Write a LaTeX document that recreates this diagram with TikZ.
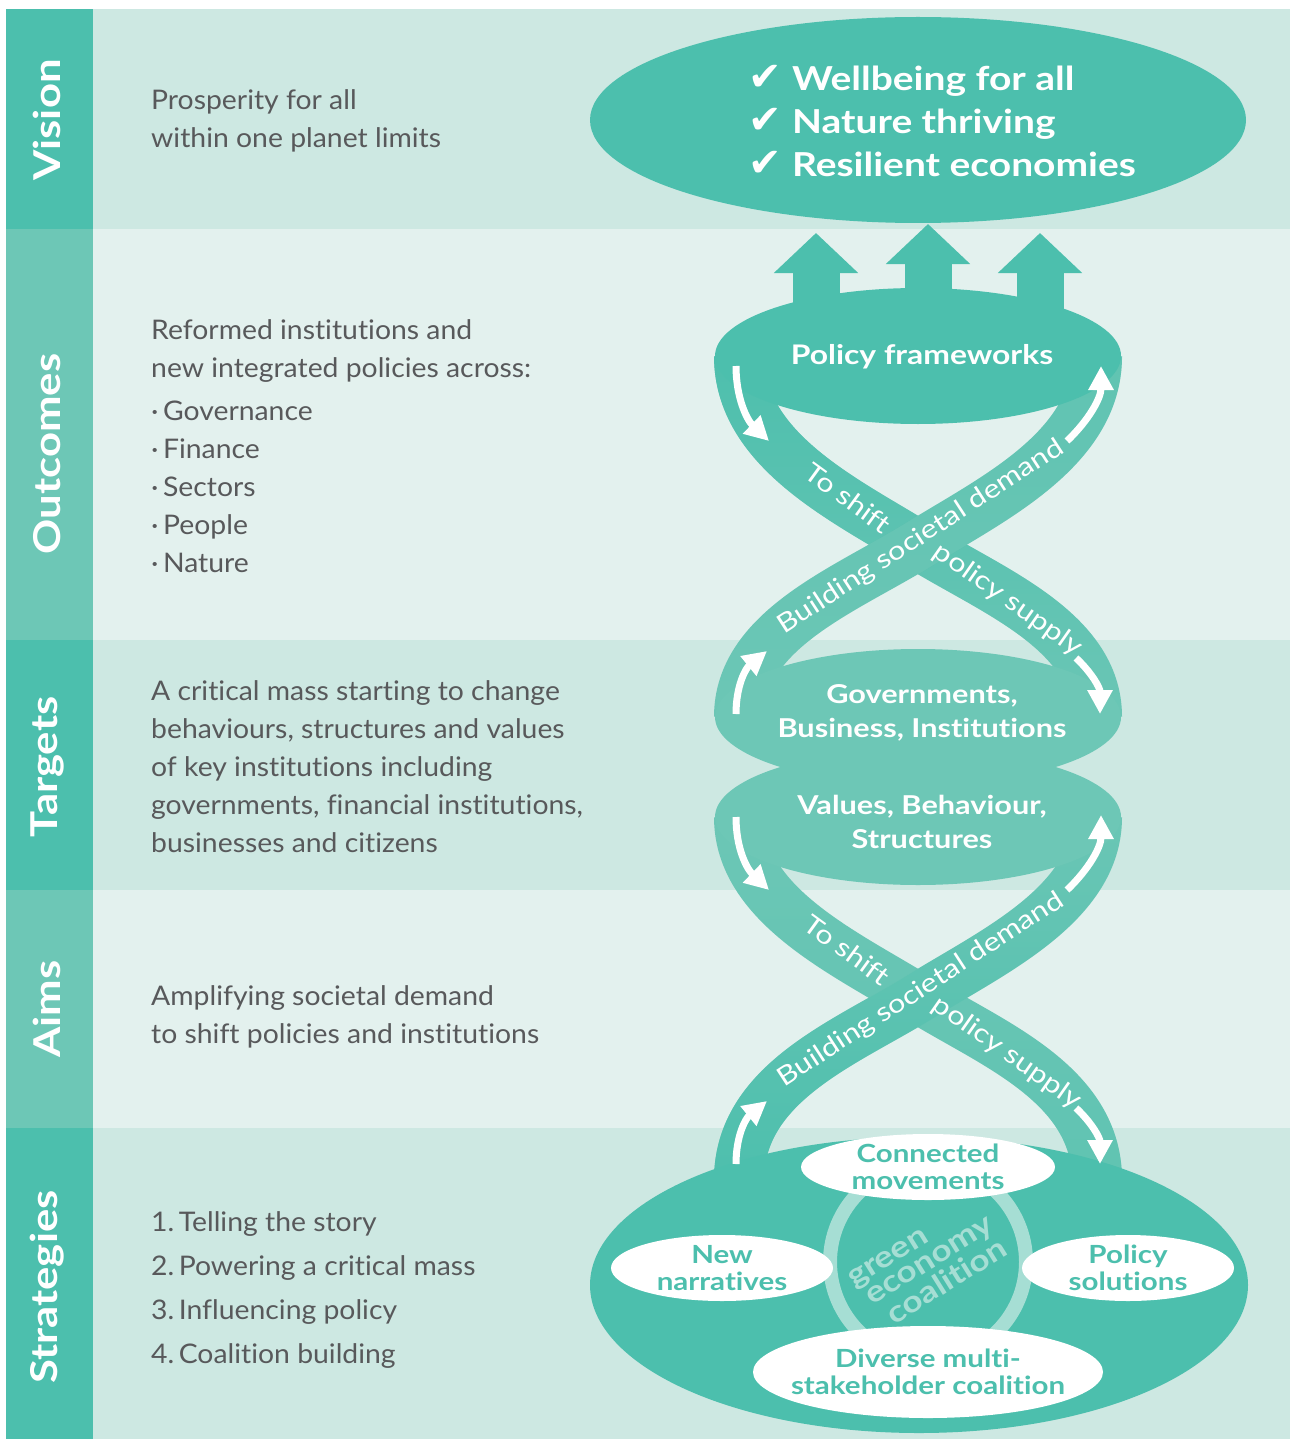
\documentclass[tikz,border=0pt]{standalone}
\usepackage{fontspec}
\setmainfont{Lato}[FakeStretch=1.05,Ligatures=NoCommon]
\newfontfamily\headfont{Lato}[FakeStretch=1.18,Ligatures=NoCommon]
\newfontfamily\symfont{DejaVu Sans}
\usepackage{tikz}
\usetikzlibrary{shapes.geometric}
\usetikzlibrary{arrows.meta,fadings}
\definecolor{tealdark}{RGB}{76,191,173}
\definecolor{teallight}{RGB}{109,199,182}
\definecolor{banddark}{RGB}{205,232,226}
\definecolor{bandlight}{RGB}{227,241,238}
\definecolor{ringcol}{RGB}{166,222,212}
\definecolor{bodygray}{RGB}{88,89,91}
\tikzstyle{sidelabel}=[rotate=90,text=white,font=\headfont\fontsize{37}{40}\selectfont\bfseries]
\tikzstyle{bodytxt}=[anchor=west,align=left,inner sep=0pt,text=bodygray,font=\fontsize{27}{38}\selectfont]
\tikzstyle{bulb}=[shape=ellipse,minimum width=406pt,minimum height=136pt,inner sep=0pt]
\tikzstyle{bulbtext}=[align=center,text=white,font=\headfont\fontsize{26}{34}\selectfont\bfseries]
\tikzstyle{pill}=[shape=ellipse,fill=white,inner sep=0pt]
\tikzstyle{pilltext}=[align=center,text=tealdark,font=\headfont\fontsize{25}{27}\selectfont\bfseries]
\tikzstyle{ribbondown}=[line width=50pt,draw=teallight,postaction={draw=tealdark,path fading=fadedown}]
\tikzstyle{ribbondownpale}=[line width=50pt,draw=teallight,postaction={draw=tealdark,draw opacity=0.4,path fading=fadedown}]
\tikzstyle{ribbonup}=[line width=50pt,draw=teallight,postaction={draw=tealdark,path fading=fadeup}]
\tikzstyle{ribbonuppale}=[line width=50pt,draw=teallight,postaction={draw=tealdark,draw opacity=0.4,path fading=fadeup}]
\tikzstyle{ribbontext}=[text=white,font=\headfont\fontsize{26}{26}\selectfont]
\tikzstyle{flow}=[draw=white,line width=7pt,-{Triangle[length=24pt,width=24pt]}]
\tikzstyle{uparrow}=[draw=tealdark,line width=47pt,-{Triangle[length=40pt,width=82pt]}]
\tikzfading[name=fadedown, top color=transparent!0, bottom color=transparent!100]
\tikzfading[name=fadeup, top color=transparent!100, bottom color=transparent!0]
\newcommand{\tick}{{\symfont\fontsize{40}{43}\selectfont ✔}\hspace{10pt}}

\begin{document}
\begin{tikzpicture}[x=1pt,y=-1pt]
\useasboundingbox (0,0) rectangle (1290,1439);

% bands
\fill[banddark] (93,9) rectangle (1290,229);
\fill[bandlight] (93,229) rectangle (1290,640);
\fill[banddark] (93,640) rectangle (1290,890);
\fill[bandlight] (93,890) rectangle (1290,1128);
\fill[banddark] (93,1128) rectangle (1290,1439);
\fill[tealdark] (6,9) rectangle (93,229);
\fill[teallight] (6,229) rectangle (93,640);
\fill[tealdark] (6,640) rectangle (93,890);
\fill[teallight] (6,890) rectangle (93,1128);
\fill[tealdark] (6,1128) rectangle (93,1439);

\node[sidelabel] (visionlbl) at (47,120) {Vision};
\node[sidelabel] (outcomeslbl) at (47,454) {Outcomes};
\node[sidelabel] (targetslbl) at (47,767) {Targets};
\node[sidelabel] (aimslbl) at (47,1009) {Aims};
\node[sidelabel] (strategieslbl) at (47,1287) {Strategies};

\node[bodytxt] (visiontxt) at (151,121) {Prosperity for all\\within one planet limits};
\node[bodytxt] (outcomestxt) at (151,446) {Reformed institutions and\\new integrated policies across:\\[5pt]
  ·\,Governance\\·\,Finance\\·\,Sectors\\·\,People\\·\,Nature};
\node[bodytxt] (targetstxt) at (151,767) {A critical mass starting to change\\behaviours, structures and values\\of key institutions including\\governments, financial institutions,\\businesses and citizens};
\node[bodytxt] (aimstxt) at (151,1017) {Amplifying societal demand\\to shift policies and institutions};
\node[bodytxt,font=\fontsize{27}{44}\selectfont] (strategiestxt) at (151,1290) {1.\,Telling the story\\2.\,Powering a critical mass\\3.\,Influencing policy\\4.\,Coalition building};

% vision
\node[bulb,fill=tealdark,minimum width=656pt,minimum height=206pt] (vision) at (918,120) {};
\node[anchor=west,align=left,text=white,font=\headfont\fontsize{33}{43}\selectfont\bfseries] (goals) at (745,121)
  {\tick Wellbeing for all\\\tick Nature thriving\\\tick Resilient economies};

\draw[uparrow] (816,320) -- (816,233);
\draw[uparrow] (928,310) -- (928,224);
\draw[uparrow] (1040,320) -- (1040,233);

% upper twist
\draw[ribbondown] (739,356) .. controls (739,450) and (845,500) .. (918,545)
  .. controls (990,590) and (1097,630) .. (1097,717);
\draw[ribbondownpale] (739,717) .. controls (739,630) and (845,590) .. (918,545)
  .. controls (990,500) and (1097,450) .. (1097,356);

% lower twist
\draw[ribbonuppale] (739,817) .. controls (739,905) and (845,953) .. (918,998)
  .. controls (990,1043) and (1097,1083) .. (1097,1180);
\draw[ribbonup] (739,1180) .. controls (739,1083) and (845,1043) .. (918,998)
  .. controls (990,953) and (1097,905) .. (1097,817);

\node[ribbontext,rotate=-36] (shift1) at (848,498) {To shift};
\node[ribbontext,rotate=-35] (supply1) at (1008,600) {policy supply};
\node[ribbontext,rotate=33] (demand1) at (921,537) {Building societal demand};
\node[ribbontext,rotate=-36] (shift2) at (847,950) {To shift};
\node[ribbontext,rotate=-35] (supply2) at (1007,1053) {policy supply};
\node[ribbontext,rotate=33] (demand2) at (921,990) {Building societal demand};

% bulbs
\node[bulb,fill=tealdark] (policy) at (918,356) {};
\node[bulbtext,font=\headfont\fontsize{27}{34}\selectfont\bfseries] (policytxt) at (922,357) {Policy frameworks};
\node[bulb,fill=teallight] (gov) at (918,717) {};
\node[bulb,fill=teallight] (values) at (918,817) {};
\node[bulbtext] (govtxt) at (922,713) {Governments,\\Business, Institutions};
\node[bulbtext] (valuestxt) at (922,822) {Values, Behaviour,\\Structures};

% strategies
\node[bulb,fill=tealdark,minimum width=658pt,minimum height=296pt] (strat) at (919,1285) {};
\draw[ringcol,line width=14pt] (928,1262) circle (98pt);
\node[rotate=32,align=left,text=ringcol,font=\headfont\fontsize{30}{25}\selectfont\bfseries] (gec) at (928,1264) {green\\\hspace{6pt}economy\\\hspace{14pt}coalition};
\node[pill,minimum width=254pt,minimum height=66pt] (connected) at (928,1167) {};
\node[pilltext] (connectedtxt) at (connected) {Connected\\movements};
\node[pill,minimum width=222pt,minimum height=66pt] (narratives) at (722,1268) {};
\node[pilltext] (narrativestxt) at (narratives) {New\\narratives};
\node[pill,minimum width=212pt,minimum height=66pt] (solutions) at (1128,1268) {};
\node[pilltext] (solutionstxt) at (solutions) {Policy\\solutions};
\node[pill,minimum width=350pt,minimum height=92pt] (diverse) at (928,1372) {};
\node[pilltext] (diversetxt) at (diverse) {Diverse multi-\\stakeholder coalition};

% white flow arrows
\draw[flow] (736,366) .. controls (736,398) and (747,420) .. (769,441);
\draw[flow] (1067,441) .. controls (1089,420) and (1101,398) .. (1101,366);
\draw[flow] (736,714) .. controls (736,685) and (746,668) .. (767,651);
\draw[flow] (1076,658) .. controls (1092,673) and (1100,688) .. (1100,714);
\draw[flow] (736,817) .. controls (736,849) and (747,869) .. (769,890);
\draw[flow] (1067,890) .. controls (1089,869) and (1101,847) .. (1101,815);
\draw[flow] (736,1164) .. controls (736,1135) and (746,1118) .. (767,1101);
\draw[flow] (1076,1108) .. controls (1092,1123) and (1100,1138) .. (1100,1164);
\end{tikzpicture}
\end{document}
